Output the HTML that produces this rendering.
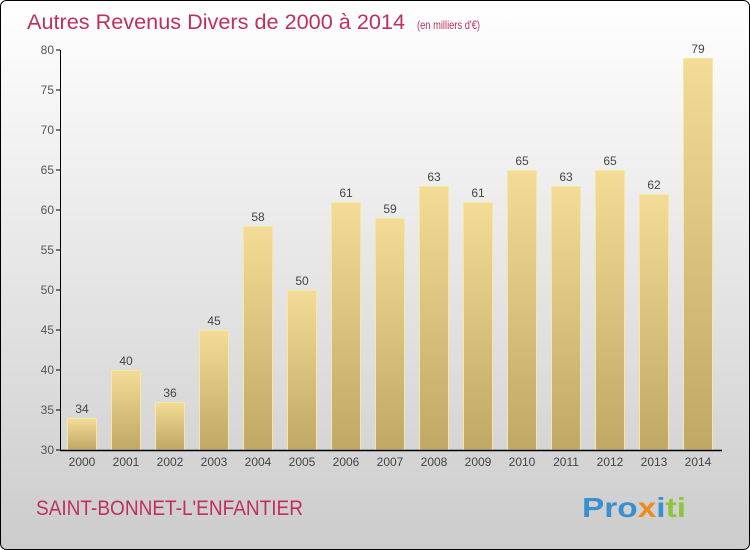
<!DOCTYPE html>
<html><head><meta charset="utf-8"><style>
body{margin:0}
svg{display:block;font-family:"Liberation Sans",sans-serif}
</style></head><body>
<svg width="750" height="550" viewBox="0 0 750 550" id="chart">
<defs>
<linearGradient id="bg" x1="0" y1="0" x2="0" y2="1"><stop offset="0" stop-color="#ffffff"/><stop offset="1" stop-color="#cccccc"/></linearGradient>
<linearGradient id="bar" x1="0" y1="0" x2="0" y2="1"><stop offset="0" stop-color="#f3dc95"/><stop offset="1" stop-color="#c0a865"/></linearGradient>
</defs>
<rect x="0.5" y="0.5" width="749" height="549" rx="6" fill="url(#bg)" stroke="#000"/>
<text x="27" y="29" font-size="21" fill="#c0305e"><tspan textLength="378" lengthAdjust="spacingAndGlyphs">Autres Revenus Divers de 2000 à 2014</tspan><tspan x="417" font-size="12" textLength="63" lengthAdjust="spacingAndGlyphs">(en milliers d'€)</tspan></text>
<g id="bars"></g>
<g id="axes"></g>
<text x="36" y="515" font-size="21" fill="#c0305e" textLength="267" lengthAdjust="spacingAndGlyphs">SAINT-BONNET-L'ENFANTIER</text>
<text x="582" y="517" font-size="28" font-weight="bold" textLength="104" lengthAdjust="spacingAndGlyphs"><tspan fill="#3a8fd0">Pro</tspan><tspan fill="#f08a1c">x</tspan><tspan fill="#3a8fd0">i</tspan><tspan fill="#8cc63f">ti</tspan></text>
</svg>
<script>
const years=["2000","2001","2002","2003","2004","2005","2006","2007","2008","2009","2010","2011","2012","2013","2014"];
const values=[34,40,36,45,58,50,61,59,63,61,65,63,65,62,79];
const yTicks=[30,35,40,45,50,55,60,65,70,75,80];
const NS="http://www.w3.org/2000/svg";
const y=v=>450-(v-30)*8;
const x=i=>67+i*44;
function mk(t,a,p){const e=document.createElementNS(NS,t);for(const k in a)e.setAttribute(k,a[k]);p.appendChild(e);return e;}
const bars=document.getElementById('bars'),axes=document.getElementById('axes');
values.forEach((v,i)=>{
 const r=mk('rect',{x:x(i)+0.5,y:y(v)+0.5,width:29,height:450-y(v)-0.5,fill:'url(#bar)',stroke:'#f7e6a6'},bars);
 
 
 const t=mk('text',{x:x(i)+15,y:y(v)-5,'font-size':12,fill:'#444','text-anchor':'middle'},bars);t.textContent=v;
 
 
 const l=mk('text',{x:x(i)+15,y:466,'font-size':12,fill:'#444','text-anchor':'middle'},axes);l.textContent=years[i];
 
 
});
yTicks.forEach(v=>{
 mk('line',{x1:56,x2:60,y1:y(v),y2:y(v),stroke:'#000'},axes);
 const t=mk('text',{x:54,y:y(v)+4,'font-size':12,fill:'#555','text-anchor':'end'},axes);t.textContent=v;
 
 
});
const ya=mk('line',{x1:60.5,x2:60.5,y1:50,y2:450.5,stroke:'#000'},axes);


const xa=mk('line',{x1:60,x2:722,y1:450.5,y2:450.5,stroke:'#000','stroke-width':1.5},axes);


</script>
</body></html>
